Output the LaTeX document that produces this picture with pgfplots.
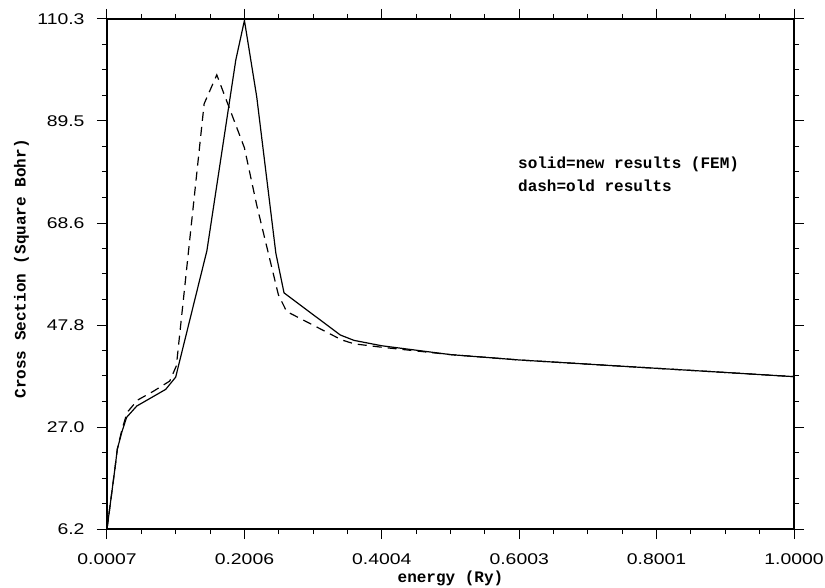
\documentclass[border=0pt]{standalone}
\usepackage{fontspec}
\setmainfont{Liberation Sans}
\newfontfamily\tickfont{Liberation Sans}[FakeStretch=1.25]
\newfontfamily\labfont{Liberation Mono}
\usepackage{pgfplots}
\pgfplotsset{compat=1.18}
\begin{document}
\begin{tikzpicture}
\begin{axis}[
  at={(0,0)}, anchor=south west,
  width=687bp, height=510bp, scale only axis,
  xmin=0.0007, xmax=1.0, ymin=6.2, ymax=110.3,
  axis line style={line width=1.2bp},
  xtick={0.0007,0.2006,0.4004,0.6003,0.8001,1.0},
  xticklabels={0.0007,0.2006,0.4004,0.6003,0.8001,1.0000},
  ytick={6.2,27.0,47.8,68.6,89.5,110.3},
  yticklabels={6.2,27.0,47.8,68.6,89.5,110.3},
  minor xtick={0.05067,0.10063,0.15060,0.25052,0.30049,0.35045,0.45037,0.50034,0.55030,0.65022,0.70019,0.75015,0.85007,0.90004,0.95000},
  minor ytick={11.405,16.61,21.815,32.225,37.43,42.635,53.045,58.25,63.455,73.865,79.07,84.275,94.685,99.89,105.095},
  tick align=outside,
  major tick length=10bp, minor tick length=5bp,
  every tick/.style={line width=1bp, black},
  /pgf/number format/assume math mode=true,
  tick label style={font=\tickfont\fontsize{15.5bp}{18bp}\selectfont},
  xticklabel style={anchor=north, yshift=-11bp},
  yticklabel style={anchor=east, xshift=-9bp},
  xlabel={energy (Ry)},
  ylabel={Cross Section (Square Bohr)},
  xlabel style={font=\labfont\bfseries\fontsize{16bp}{19bp}\selectfont, at={(axis description cs:0.5,0)}, anchor=base, yshift=-53bp},
  ylabel style={font=\labfont\bfseries\fontsize{16bp}{19bp}\selectfont, at={(axis description cs:-0.1245,0.51)}, anchor=center},
  clip=true,
]
\addplot[black, line width=1.2bp] coordinates {
(0.0007,6.2) (0.0123,18.6) (0.0157,22.5) (0.0225,26.1) (0.0293,29.0)
(0.0440,31.3) (0.0861,34.7) (0.1006,37.2) (0.1460,63.0) (0.1880,101.9)
(0.2006,110.0) (0.2185,94.4) (0.2463,62.5) (0.2582,54.4) (0.3400,45.8)
(0.3600,44.7) (0.4004,43.6) (0.5000,41.8) (0.6003,40.7) (0.8001,39.0)
(1.0000,37.3)
};
\addplot[black, line width=1.2bp, dash pattern=on 9bp off 6bp] coordinates {
(0.0007,6.2) (0.0123,18.6) (0.0157,22.5) (0.0225,26.5) (0.0300,30.0)
(0.0450,32.5) (0.0680,34.3) (0.0920,36.4) (0.1016,39.5) (0.1420,93.0)
(0.1604,98.9) (0.2006,84.0) (0.2185,72.3) (0.2500,54.0) (0.2620,50.6)
(0.3420,44.8) (0.3600,44.0) (0.4004,43.3) (0.5000,41.8) (0.6003,40.7)
(0.8001,39.0) (1.0000,37.3)
};
\node[anchor=base west, font=\labfont\bfseries\fontsize{16bp}{19bp}\selectfont, inner sep=0pt] at (axis cs:0.5985,79.7) {solid=new results (FEM)};
\node[anchor=base west, font=\labfont\bfseries\fontsize{16bp}{19bp}\selectfont, inner sep=0pt] at (axis cs:0.5985,75.0) {dash=old results};
\end{axis}
\pgfresetboundingbox
\path (-107bp,-59bp) rectangle (718bp,529bp);
\end{tikzpicture}
\end{document}
